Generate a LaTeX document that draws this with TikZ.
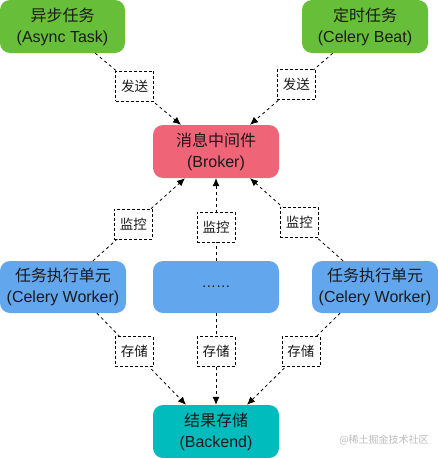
\documentclass[tikz,border=0pt]{standalone}
\usepackage{fontspec}
\setmainfont{Liberation Sans}
\newfontfamily\cjk{Noto Sans CJK SC}
\usetikzlibrary{arrows.meta}
\definecolor{cgreen}{HTML}{67BE38}
\definecolor{cpink}{HTML}{F06478}
\definecolor{cblue}{HTML}{62A6EE}
\definecolor{cteal}{HTML}{00BCBD}
\definecolor{ctext}{HTML}{1A1A1A}
\definecolor{cmark}{HTML}{BBBBBB}
\tikzset{
  box/.style={rounded corners=10pt, minimum height=53pt, minimum width=126pt,
    inner sep=0pt, align=center, text=ctext, font=\fontsize{16}{21}\selectfont},
  conn/.style={draw=black, line width=0.8pt, dash pattern=on 3pt off 3pt,
    -{Latex[length=8pt,width=7pt]}},
  lbl/.style={draw=black, line width=0.8pt, fill=white,
    minimum width=38pt, minimum height=30pt, inner sep=0pt, text=ctext,
    font=\fontsize{13.5}{15}\selectfont\cjk, dash pattern=on 3pt off 2pt},
}
\begin{document}
\begin{tikzpicture}[x=1pt,y=-1pt]
\useasboundingbox (0,0) rectangle (438,458);
\node[box, fill=cgreen, minimum width=125pt] (async) at (62.5,26.5) {{\cjk 异步任务}\\(Async Task)};
\node[box, fill=cgreen] (beat) at (365,26.5) {{\cjk 定时任务}\\(Celery Beat)};
\node[box, fill=cpink] (broker) at (216,151.5) {{\cjk 消息中间件}\\(Broker)};
\node[box, fill=cblue, minimum height=52pt] (w1) at (63,287) {{\cjk 任务执行单元}\\(Celery Worker)};
\node[box, fill=cblue, minimum height=52pt, font=\fontsize{14.5}{15}\selectfont] (w2) at (216,287) {……};
\node[box, fill=cblue, minimum height=52pt] (w3) at (375,287) {{\cjk 任务执行单元}\\(Celery Worker)};
\node[box, fill=cteal] (backend) at (216,431.5) {{\cjk 结果存储}\\(Backend)};

\draw[conn] ([xshift=-30pt]async.south east) -- node[lbl, pos=0.46] (l1) {发送} ([xshift=-35pt]broker.north);
\draw[conn] ([xshift=31pt]beat.south west) -- node[lbl, pos=0.44] (l2) {发送} ([xshift=34pt]broker.north);
\draw[conn] ([xshift=30pt]w1.north) -- node[lbl, pos=0.44] (l3) {监控} ([xshift=-31pt]broker.south);
\draw[conn] (w2.north) -- node[lbl, pos=0.41] (l4) {监控} (broker.south);
\draw[conn] ([xshift=-32pt]w3.north) -- node[lbl, pos=0.47] (l5) {监控} ([xshift=34pt]broker.south);
\draw[conn] ([xshift=34pt]w1.south) -- node[lbl, pos=0.42] (l6) {存储} ([xshift=-30pt]backend.north);
\draw[conn] (w2.south) -- node[lbl, pos=0.42] (l7) {存储} (backend.north);
\draw[conn] ([xshift=-35pt]w3.south) -- node[lbl, pos=0.42] (l8) {存储} ([xshift=31pt]backend.north);

\node[text=cmark, font=\fontsize{10}{12}\selectfont\cjk, inner sep=0pt] (mark) at (384,440) {@稀土掘金技术社区};
\end{tikzpicture}
\end{document}
